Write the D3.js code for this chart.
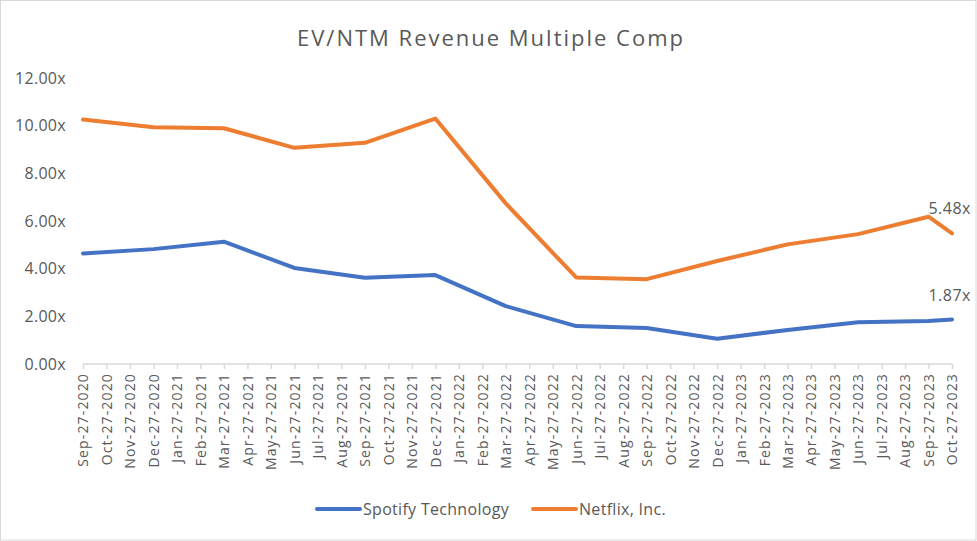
<!DOCTYPE html>
<html>
<head>
<meta charset="utf-8">
<script src="https://cdn.jsdelivr.net/npm/d3@7"></script>
<style>
  html, body { margin: 0; padding: 0; background: #fff; }
  svg { display: block; }
  text { font-family: "Open Sans", "Noto Sans", sans-serif; fill: #595959; }
</style>
</head>
<body>
<svg id="chart" width="977" height="541"></svg>
<script>
const categories = [
  "Sep-27-2020","Oct-27-2020","Nov-27-2020","Dec-27-2020","Jan-27-2021","Feb-27-2021",
  "Mar-27-2021","Apr-27-2021","May-27-2021","Jun-27-2021","Jul-27-2021","Aug-27-2021",
  "Sep-27-2021","Oct-27-2021","Nov-27-2021","Dec-27-2021","Jan-27-2022","Feb-27-2022",
  "Mar-27-2022","Apr-27-2022","May-27-2022","Jun-27-2022","Jul-27-2022","Aug-27-2022",
  "Sep-27-2022","Oct-27-2022","Nov-27-2022","Dec-27-2022","Jan-27-2023","Feb-27-2023",
  "Mar-27-2023","Apr-27-2023","May-27-2023","Jun-27-2023","Jul-27-2023","Aug-27-2023",
  "Sep-27-2023","Oct-27-2023"
];
const spotify = [
  4.64,null,null,4.82,null,null,
  5.13,null,null,4.03,null,null,
  3.62,null,null,3.73,null,null,
  2.43,null,null,1.59,null,null,
  1.51,null,null,1.06,null,null,
  1.43,null,null,1.75,null,null,
  1.80,1.87
];
const netflix = [
  10.26,null,null,9.93,null,null,
  9.89,null,null,9.07,null,null,
  9.28,null,null,10.30,null,null,
  6.74,null,null,3.63,null,null,
  3.56,null,null,4.32,null,null,
  5.02,null,null,5.45,null,null,
  6.18,5.48
];
const yTicks = [0, 2, 4, 6, 8, 10, 12];
const seriesNames = ["Spotify Technology", "Netflix, Inc."];
const seriesColors = ["#4472C4", "#ED7D31"];

const svg = d3.select("#chart");
const W = 977, H = 541;

svg.append("rect").attr("x", 0.5).attr("y", 0.5).attr("width", W - 1.5).attr("height", H - 1.5)
  .attr("fill", "#fff").attr("stroke", "#d9d9d9");

const x = d3.scalePoint().domain(categories).range([83, 952]);
const y = d3.scaleLinear().domain([0, 12]).range([364, 78]);

// title
svg.append("text").attr("x", 490).attr("y", 46).attr("text-anchor", "middle")
  .style("font-size", "22px").attr("textLength", 386).attr("lengthAdjust", "spacing")
  .text("EV/NTM Revenue Multiple Comp");

// y axis labels
const yAxis = d3.axisLeft(y).tickValues(yTicks).tickSize(0).tickPadding(0)
  .tickFormat(d => d3.format(".2f")(d) + "x");
const yg = svg.append("g").attr("transform", "translate(66,0)").call(yAxis);
yg.select(".domain").remove();
yg.selectAll("text").style("font-size", "16px").style("letter-spacing", "0.3px").attr("fill", "#595959")
  .style("font-family", "'Open Sans', sans-serif");

// x axis
const xAxis = d3.axisBottom(x).tickSizeOuter(0).tickSize(5).tickPadding(8);
const xg = svg.append("g").attr("transform", "translate(0,364)").call(xAxis);
xg.select(".domain").attr("stroke", "#d9d9d9").attr("stroke-width", 1.5)
  .attr("d", "M83,0H952");
xg.selectAll(".tick line").attr("stroke", "#d9d9d9").attr("stroke-width", 1.5);
xg.selectAll("text")
  .style("font-size", "14px").style("letter-spacing", "1.15px")
  .style("font-family", "'Open Sans', sans-serif")
  .attr("fill", "#595959")
  .attr("transform", "rotate(-90)")
  .attr("text-anchor", "end")
  .attr("x", -9).attr("y", 0).attr("dy", "0.35em");

// lines
const line = d3.line().x(d => x(d.c)).y(d => y(d.v));
[spotify, netflix].forEach((vals, i) => {
  const pts = vals.map((v, k) => ({ c: categories[k], v })).filter(d => d.v !== null);
  svg.append("path").datum(pts).attr("d", line)
    .attr("fill", "none").attr("stroke", seriesColors[i])
    .attr("stroke-width", 4).attr("stroke-linejoin", "round").attr("stroke-linecap", "round");
});

// data labels on last point
[spotify, netflix].forEach((vals, i) => {
  const last = vals.length - 1;
  const lab = i === 0 ? 301 : 214;
  svg.append("text").attr("x", x(categories[last]) + 19).attr("y", lab)
    .attr("text-anchor", "end").style("font-size", "16px").style("letter-spacing", "0.5px")
    .text(d3.format(".2f")(vals[last]) + "x");
});

// legend
const legendX = [317, 533];
seriesNames.forEach((name, i) => {
  const g = svg.append("g");
  g.append("line").attr("x1", legendX[i]).attr("x2", legendX[i] + 43)
    .attr("y1", 509).attr("y2", 509)
    .attr("stroke", seriesColors[i]).attr("stroke-width", 4).attr("stroke-linecap", "round");
  g.append("text").attr("x", legendX[i] + 46).attr("y", 514.5)
    .style("font-size", "16px").style("letter-spacing", "0.3px").text(name);
});
</script>
</body>
</html>
